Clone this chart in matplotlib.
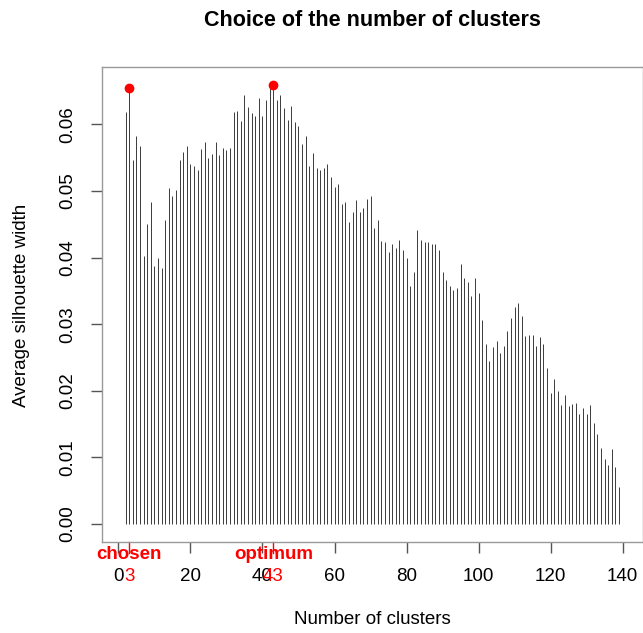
import matplotlib
matplotlib.use("Agg")
import matplotlib.pyplot as plt

plt.rcParams['font.family'] = ['Liberation Sans', 'DejaVu Sans']

# average silhouette width for k = 1..140 clusters
k = list(range(1, 141))
sil = [0.0, 0.0618, 0.0655, 0.0546, 0.0583, 0.0568, 0.0403, 0.0451, 0.0484, 0.0387,
       0.0400, 0.0384, 0.0456, 0.0504, 0.0492, 0.0502, 0.0547, 0.0559, 0.0568, 0.0540,
       0.0538, 0.0532, 0.0563, 0.0573, 0.0549, 0.0555, 0.0574, 0.0554, 0.0565, 0.0562,
       0.0564, 0.0619, 0.0620, 0.0605, 0.0644, 0.0626, 0.0617, 0.0612, 0.0640, 0.0612,
       0.0636, 0.0654, 0.0659, 0.0636, 0.0644, 0.0624, 0.0606, 0.0627, 0.0603, 0.0598,
       0.0571, 0.0583, 0.0537, 0.0557, 0.0535, 0.0532, 0.0535, 0.0540, 0.0521, 0.0506,
       0.0510, 0.0480, 0.0483, 0.0453, 0.0468, 0.0486, 0.0469, 0.0474, 0.0488, 0.0493,
       0.0444, 0.0456, 0.0425, 0.0423, 0.0409, 0.0420, 0.0414, 0.0427, 0.0411, 0.0400,
       0.0358, 0.0379, 0.0442, 0.0427, 0.0423, 0.0423, 0.0420, 0.0420, 0.0412, 0.0379,
       0.0367, 0.0358, 0.0351, 0.0354, 0.0391, 0.0370, 0.0364, 0.0342, 0.0370, 0.0347,
       0.0306, 0.0271, 0.0244, 0.0266, 0.0275, 0.0256, 0.0268, 0.0290, 0.0309, 0.0326,
       0.0332, 0.0313, 0.0282, 0.0284, 0.0284, 0.0267, 0.0281, 0.0270, 0.0234, 0.0197,
       0.0218, 0.0199, 0.0178, 0.0193, 0.0177, 0.0180, 0.0182, 0.0165, 0.0174, 0.0165,
       0.0178, 0.0151, 0.0135, 0.0114, 0.0098, 0.0089, 0.0113, 0.0086, 0.0056, 0.0]

chosen = 3
optimum = 43
xticks = [0, 20, 40, 60, 80, 100, 120, 140]
yticks = [0.00, 0.01, 0.02, 0.03, 0.04, 0.05, 0.06]

fig = plt.figure(figsize=(6.43, 6.33), dpi=100)
ax = fig.add_axes([0.1586, 0.1444, 0.8409, 0.749])

ax.vlines(k, 0, sil, colors='#3a3a3a', linewidth=0.7)
for c in (chosen, optimum):
    ax.plot([c], [sil[c - 1]], 'o', color='red', markersize=6, zorder=5)

# R-style ranges (4% padding)
ax.set_xlim(1 - 0.04 * 139, 140 + 0.04 * 139)
ymax = max(sil)
ax.set_ylim(-0.04 * ymax, ymax * 1.04)

for s in ax.spines.values():
    s.set_color('#999999')
    s.set_linewidth(1)

ax.set_xticks(xticks)
ax.set_yticks(yticks)
ax.set_xticklabels([])
ax.set_yticklabels([])
ax.tick_params(axis='both', length=8, width=1, color='#555555', direction='out')

tx = ax.get_xaxis_transform()
ty = ax.get_yaxis_transform()

for t in xticks:
    ax.text(t, -0.073, str(t), transform=tx, ha='center', va='center', fontsize=13.5)
for t in yticks:
    ax.text(-0.063, t, '%.2f' % t, transform=ty, ha='center', va='center',
            fontsize=13.5, rotation=90)

# red marks for chosen / optimum
for c, name in ((chosen, 'chosen'), (optimum, 'optimum')):
    ax.plot([c, c], [0, -0.0232], transform=tx, color='red', linewidth=1, clip_on=False)
    ax.text(c, -0.073, str(c), transform=tx, ha='center', va='center',
            fontsize=13.5, color='red')
    ax.text(c, -0.027, name, transform=tx, ha='center', va='center',
            fontsize=13.5, color='red', fontweight='bold')

fig.text(0.579, 0.968, 'Choice of the number of clusters', ha='center', va='center',
         fontsize=15.5, fontweight='bold')
fig.text(0.579, 0.021, 'Number of clusters', ha='center', va='center', fontsize=13.5)
fig.text(0.034, 0.518, 'Average silhouette width', ha='center', va='center',
         fontsize=13.5, rotation=90)

fig.savefig('out.png', dpi=100)
